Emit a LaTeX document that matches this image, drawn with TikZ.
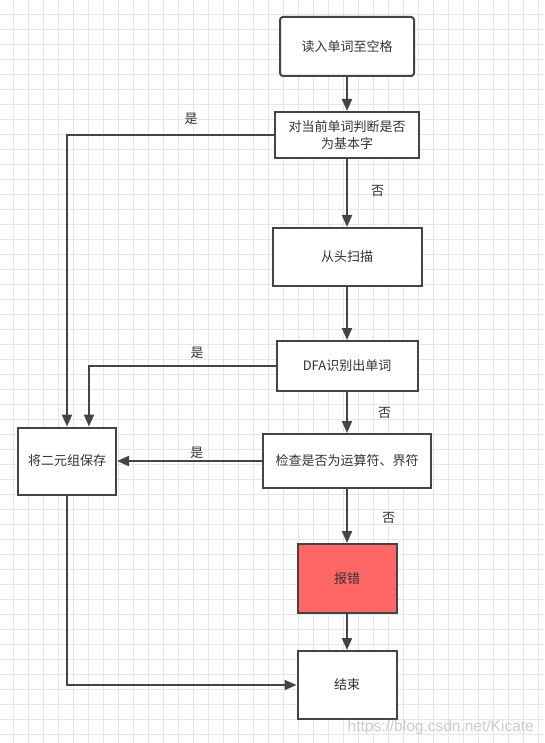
\documentclass[tikz,border=0pt]{standalone}
\usepackage{fontspec}
\setmainfont{Noto Sans CJK SC}
\newfontfamily\urlfont{Liberation Sans}
\usetikzlibrary{arrows.meta,positioning}
\definecolor{linegray}{HTML}{444444}
\definecolor{textgray}{HTML}{333333}
\definecolor{gridgray}{HTML}{E6E6E6}
\definecolor{errred}{HTML}{FF6666}

\begin{document}
\begin{tikzpicture}[x=1pt,y=-1pt,>={Triangle[length=12pt,width=10pt]},auto,
        main node/.style={rectangle,draw=linegray,line width=2pt,fill=white,inner sep=0pt,
            font=\fontsize{13}{17}\selectfont,text=textgray,align=center},
        label node/.style={font=\fontsize{13}{15}\selectfont,text=textgray,inner sep=2pt}]
        \useasboundingbox[fill=white] (0,0) rectangle (544,743);
        % background grid
        \foreach \gx in {0,...,35}
            \draw[gridgray,line width=1pt] (13.2+15*\gx,0) -- (13.2+15*\gx,743);
        \foreach \gy in {0,...,48}
            \draw[gridgray,line width=1pt] (0,14.5+15*\gy) -- (544,14.5+15*\gy);

        \node[main node,rounded corners=3pt,minimum width=134pt,minimum height=59pt] (1) at (347,46.5) {读入单词至空格};
        \node[main node,minimum width=144pt,minimum height=46pt] (2) [below=34pt of 1] {对当前单词判断是否\\为基本字};
        \node[main node,minimum width=149pt,minimum height=58pt] (3) [below=68pt of 2] {从头扫描};
        \node[main node,minimum width=141pt,minimum height=50pt] (4) [below=53pt of 3] {DFA识别出单词};
        \node[main node,minimum width=168pt,minimum height=54pt] (5) [below=41pt of 4] {检查是否为运算符、界符};
        \node[main node,minimum width=98pt,minimum height=67pt] (6) [left=145pt of 5] {将二元组保存};
        \node[main node,fill=errred,minimum width=99pt,minimum height=69pt] (7) [below=54pt of 5] {报错};
        \node[main node,minimum width=99pt,minimum height=68pt] (8) [below=36pt of 7] {结束};

        \path[->,linegray,line width=2pt]
        (1) edge (2)
        (2) edge node [label node,pos=0.47,right=21pt] {否} (3)
        (3) edge (4)
        (4) edge node [label node,pos=0.5,right=28pt] {否} (5)
        (5) edge node [label node,pos=0.54,right=32pt] {否} (7)
        (5) edge node [label node,pos=0.45,above=-1pt] {是} (6)
        (7) edge (8)
        ;
        \draw[->,linegray,line width=2pt] (2.west) -| node [label node,pos=0.2,above=7pt] {是} (6.north);
        \draw[->,linegray,line width=2pt] (4.west) -| node [label node,pos=0.21,above=4pt] {是} ([xshift=22pt]6.north);
        \draw[->,linegray,line width=2pt] (6.south) |- (8.west);

        \node[anchor=base east,inner sep=0pt,font=\urlfont\fontsize{15.5}{16}\selectfont,text=black!20] (wm) at (534,731) {https://blog.csdn.net/Kicate};
        \end{tikzpicture}
\end{document}
